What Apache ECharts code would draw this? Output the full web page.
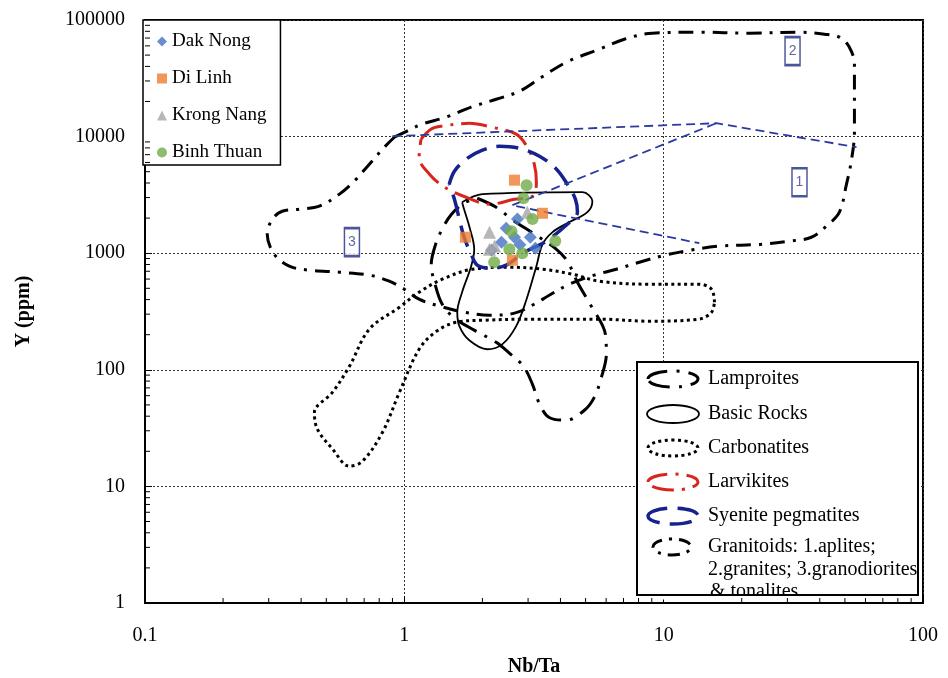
<!DOCTYPE html>
<html>
<head>
<meta charset="utf-8">
<script src="https://cdn.jsdelivr.net/npm/echarts@6/dist/echarts.min.js"></script>
<style>
  html, body { margin: 0; padding: 0; background: #fff; }
  #chart { width: 948px; height: 678px; }
</style>
</head>
<body>
<div id="chart"></div>
<script>
// ---------- samples: [Nb/Ta, Y (ppm)] ----------
const dakNong = [[2.73, 1960], [2.47, 1640], [2.66, 1370], [2.37, 1240], [2.17, 1060], [3.06, 1370], [3.20, 1100], [2.79, 1180]];
const diLinh = [[2.66, 4230], [3.41, 2200], [1.72, 1370], [2.61, 871]];
const krongNang = [[2.98, 2250], [2.13, 1510], [2.23, 1150], [2.13, 1080]];
const binhThuan = [[2.96, 3830], [2.88, 2960], [3.12, 1960], [2.59, 1540], [3.82, 1270], [2.54, 1080], [2.85, 1000], [2.22, 837]];

// ---------- reference fields (closed outlines): [Nb/Ta, Y (ppm)] ----------
const lamproites = [[1.91, 2960], [2.26, 2480], [2.59, 1960], [3.17, 1460], [3.86, 1080], [4.25, 854], [4.65, 564], [5.26, 351], [5.96, 202], [6.01, 136], [5.75, 86], [5.40, 58], [4.95, 45], [4.22, 37], [3.62, 39], [3.32, 51], [3.12, 75], [2.88, 107], [2.54, 139], [2.26, 172], [1.86, 219], [1.56, 277], [1.40, 365], [1.32, 521], [1.27, 805], [1.32, 1190], [1.40, 1610], [1.52, 2160], [1.70, 2690], [1.91, 2960]];
const basicRocks = [[1.67, 2740], [2.0, 3210], [4.86, 3340], [5.31, 2790], [5.08, 2250], [4.33, 1850], [3.72, 1510], [3.41, 1190], [3.23, 774], [2.96, 403], [2.70, 237], [2.39, 166], [2.09, 150], [1.78, 179], [1.63, 237], [1.60, 312], [1.67, 463], [1.81, 774], [1.86, 1080], [1.78, 1700], [1.70, 2380], [1.67, 2740]];
const carbonatites = [[15.7, 380], [15.3, 491], [13.7, 542], [8.8, 542], [5.65, 575], [4.45, 660], [3.41, 729], [2.54, 758], [1.83, 729], [1.40, 598], [1.14, 463], [0.957, 344], [0.733, 223], [0.614, 107], [0.528, 64], [0.450, 43], [0.462, 31], [0.528, 21], [0.614, 14.9], [0.689, 16.4], [0.823, 29], [0.957, 64], [1.14, 150], [1.33, 214], [1.59, 256], [2.0, 266], [3.12, 272], [5.65, 272], [8.8, 261], [13.7, 272], [15.3, 312], [15.7, 380]];
const larvikites = [[1.16, 9500], [1.27, 11600], [1.40, 12300], [1.78, 13000], [2.19, 12000], [2.70, 10500], [2.98, 8110], [3.17, 5800], [3.23, 4060], [3.12, 3080], [2.66, 2900], [2.13, 2630], [1.73, 3020], [1.43, 3680], [1.25, 4760], [1.14, 6660], [1.16, 9500]];
const syenitePegmatites = [[1.49, 3910], [1.56, 5050], [1.73, 6400], [2.0, 7650], [2.33, 8270], [2.78, 7950], [3.32, 6790], [3.86, 5250], [4.25, 3910], [4.57, 2900], [4.65, 2250], [4.25, 1770], [3.47, 1240], [2.90, 1020], [2.47, 789], [2.13, 744], [1.91, 789], [1.81, 980], [1.70, 1370], [1.63, 1960], [1.56, 2900], [1.49, 3910]];
const granitoids = [[0.915, 9880], [1.02, 11100], [1.17, 12800], [1.45, 14700], [1.81, 17900], [2.26, 20900], [2.78, 24500], [3.38, 32300], [4.22, 43500], [5.65, 56200], [7.05, 68400], [9.04, 77100], [13.7, 78600], [21.4, 77100], [33.4, 78600], [41.7, 75600], [47.6, 71200], [52.0, 58500], [54.4, 41800], [54.4, 23100], [54.4, 10900], [52.9, 6150], [50.7, 3910], [47.6, 2250], [42.8, 1740], [37.1, 1370], [30.5, 1270], [23.4, 1190], [16.4, 1150], [12.6, 1060], [10.1, 961], [8.06, 837], [6.57, 729], [5.40, 648], [4.33, 542], [3.62, 436], [3.17, 365], [2.66, 306], [2.13, 294], [1.70, 312], [1.37, 351], [1.14, 403], [1.0, 491], [0.875, 575], [0.733, 648], [0.562, 687], [0.430, 715], [0.360, 774], [0.315, 980], [0.296, 1460], [0.310, 1960], [0.338, 2290], [0.394, 2380], [0.470, 2530], [0.562, 3210], [0.641, 4150], [0.733, 5800], [0.837, 8110], [0.915, 9880]];
// sub-field dividers inside the granitoid envelope
const graniteDivider = [[0.899, 10080], [15.97, 13030], [55.4, 8110]];
const apliteUpper = [[2.61, 2580], [15.97, 13030]];
const apliteLower = [[2.70, 2530], [13.73, 1218]];
// sub-field tags
const regionTags = [
  { tag: '1', value: [33.4, 4060] },
  { tag: '2', value: [31.4, 54000] },
  { tag: '3', value: [0.628, 1243] }
];

// ---------- axes ----------
const xMinorTicks = [0.2, 0.3, 0.4, 0.5, 0.6, 0.7, 0.8, 0.9, 2, 3, 4, 5, 6, 7, 8, 9, 20, 30, 40, 50, 60, 70, 80, 90];
const yMinorTicks = [2, 3, 4, 5, 6, 7, 8, 9, 20, 30, 40, 50, 60, 70, 80, 90, 200, 300, 400, 500, 600, 700, 800, 900,
  2000, 3000, 4000, 5000, 6000, 7000, 8000, 9000, 20000, 30000, 40000, 50000, 60000, 70000, 80000, 90000];
const X_MIN = 0.1, X_MAX = 100, Y_MIN = 1, Y_MAX = 100000;

const SERIF = '"Liberation Serif", "Times New Roman", serif';

function fieldLine(name, data, color, width, dash, z) {
  return {
    type: 'line', name: name, data: data,
    showSymbol: false, symbol: 'none', smooth: 0.35, silent: true,
    lineStyle: { color: color, width: width, type: dash, cap: 'butt', join: 'round' },
    z: z || 3
  };
}

const minorTickData = xMinorTicks.map(v => [v, Y_MIN, 0]).concat(yMinorTicks.map(v => [X_MIN, v, 1]));

const chart = echarts.init(document.getElementById('chart'), null, { renderer: 'canvas' });

const fmt = v => String(+Number(v).toPrecision(6));

const axisCommon = {
  type: 'log', logBase: 10,
  nameLocation: 'middle',
  nameTextStyle: { fontFamily: SERIF, fontWeight: 'bold', fontSize: 20, color: '#000' },
  axisLine: { show: true, onZero: false, lineStyle: { color: '#000', width: 2 } },
  axisTick: { show: true, inside: true, length: 7, lineStyle: { color: '#000', width: 1 } },
  axisLabel: { fontFamily: SERIF, fontSize: 20, color: '#000', formatter: fmt },
  splitLine: { show: true, lineStyle: { color: '#333', width: 1, type: [2, 2] } }
};

const legendIconY = [379, 414, 448, 482, 516, 547];
const legendTexts = ['Lamproites', 'Basic Rocks', 'Carbonatites', 'Larvikites', 'Syenite pegmatites', 'Granitoids: 1.aplites;'];

const option = {
  animation: false,
  backgroundColor: '#fff',
  grid: {
    left: 145, right: 25, top: 20, bottom: 75,
    outerBoundsMode: 'none', containLabel: false,
    show: true, borderColor: '#000', borderWidth: 2, backgroundColor: 'transparent'
  },
  xAxis: Object.assign({}, axisCommon, {
    min: X_MIN, max: X_MAX, name: 'Nb/Ta', nameGap: 54,
    axisLabel: Object.assign({}, axisCommon.axisLabel, { margin: 23 })
  }),
  yAxis: Object.assign({}, axisCommon, {
    min: Y_MIN, max: Y_MAX, name: 'Y (ppm)', nameGap: 111, nameRotate: 90,
    axisLabel: Object.assign({}, axisCommon.axisLabel, { margin: 20 })
  }),
  legend: {
    data: ['Dak Nong', 'Di Linh', 'Krong Nang', 'Binh Thuan'],
    orient: 'vertical', left: 143, top: 20,
    itemWidth: 10, itemHeight: 10, itemGap: 18,
    padding: [12, 14, 3, 14],
    backgroundColor: '#fff', borderColor: '#000', borderWidth: 1.5, borderRadius: 0,
    textStyle: { fontFamily: SERIF, fontSize: 19, color: '#000' },
    selectedMode: false, z: 10
  },
  series: [
    fieldLine('Granitoids', granitoids, '#000', 3, [15, 8, 3, 8]),
    fieldLine('Carbonatites', carbonatites, '#000', 3, [3, 3.5]),
    fieldLine('Lamproites', lamproites, '#000', 3, [22, 9, 3, 9]),
    fieldLine('Basic Rocks', basicRocks, '#000', 1.8, 'solid'),
    fieldLine('Larvikites', larvikites, '#D8261E', 3, [26, 8, 3, 8]),
    fieldLine('Syenite pegmatites', syenitePegmatites, '#16238C', 3.5, [22, 10]),
    Object.assign(fieldLine('g-div', graniteDivider, '#2B3AA0', 1.8, [9, 5]), { smooth: false }),
    Object.assign(fieldLine('a-up', apliteUpper, '#2B3AA0', 1.8, [9, 5]), { smooth: false }),
    Object.assign(fieldLine('a-low', apliteLower, '#2B3AA0', 1.8, [9, 5]), { smooth: false }),
    { type: 'scatter', name: 'Dak Nong', data: dakNong, symbol: 'diamond', symbolSize: 13, itemStyle: { color: '#4472C4' }, z: 5 },
    { type: 'scatter', name: 'Di Linh', data: diLinh, symbol: 'rect', symbolSize: 11, itemStyle: { color: '#ED7D31' }, z: 5 },
    { type: 'scatter', name: 'Krong Nang', data: krongNang, symbol: 'triangle', symbolSize: 13, itemStyle: { color: '#A5A5A5' }, z: 5 },
    { type: 'scatter', name: 'Binh Thuan', data: binhThuan, symbol: 'circle', symbolSize: 12, itemStyle: { color: '#70AD47' }, z: 5 },
    {
      type: 'scatter', name: 'tags', data: regionTags, silent: true,
      symbol: 'rect', symbolSize: [15, 28],
      itemStyle: { color: '#fff', borderColor: '#1E2A80', borderWidth: 2 },
      label: { show: true, position: 'inside', formatter: p => p.data.tag, color: '#3A3F8C', fontSize: 14, fontFamily: 'Liberation Sans, Arial, sans-serif' },
      z: 6
    },
    {
      type: 'custom', name: 'minor-ticks', data: minorTickData, silent: true, clip: false, z: 120,
      encode: { x: 0, y: 1 },
      renderItem: function (params, api) {
        const p = api.coord([api.value(0), api.value(1)]);
        const len = 5;
        const vertical = api.value(2) === 1;
        return {
          type: 'line',
          shape: vertical ? { x1: p[0], y1: p[1], x2: p[0] + len, y2: p[1] } : { x1: p[0], y1: p[1], x2: p[0], y2: p[1] - len },
          style: { stroke: '#000', lineWidth: 1 }
        };
      }
    }
  ],
  graphic: [
    { type: 'rect', z: 100, shape: { x: 637, y: 362, width: 281, height: 233 }, style: { fill: '#fff', stroke: '#000', lineWidth: 2 } },
    { type: 'ellipse', z: 101, shape: { cx: 673, cy: legendIconY[0], rx: 25, ry: 8 }, style: { fill: 'none', stroke: '#000', lineWidth: 3, lineDash: [22, 9, 3, 9] } },
    { type: 'ellipse', z: 101, shape: { cx: 673, cy: legendIconY[1], rx: 26, ry: 9 }, style: { fill: 'none', stroke: '#000', lineWidth: 1.8 } },
    { type: 'ellipse', z: 101, shape: { cx: 673, cy: legendIconY[2], rx: 25, ry: 8 }, style: { fill: 'none', stroke: '#000', lineWidth: 3, lineDash: [3, 3.5] } },
    { type: 'ellipse', z: 101, shape: { cx: 673, cy: legendIconY[3], rx: 25, ry: 8 }, style: { fill: 'none', stroke: '#D8261E', lineWidth: 3, lineDash: [22, 8, 3, 8] } },
    { type: 'ellipse', z: 101, shape: { cx: 673, cy: legendIconY[4], rx: 25, ry: 8 }, style: { fill: 'none', stroke: '#16238C', lineWidth: 3.5, lineDash: [22, 10] } },
    { type: 'ellipse', z: 101, shape: { cx: 672, cy: legendIconY[5], rx: 19, ry: 8 }, style: { fill: 'none', stroke: '#000', lineWidth: 3, lineDash: [12, 7, 3, 7] } }
  ].concat(legendTexts.map((t, i) => ({
    type: 'text', z: 101, x: 708, y: legendIconY[i],
    style: { text: t, fontFamily: SERIF, fontSize: 20, fill: '#000', verticalAlign: 'middle' }
  }))).concat([
    { type: 'text', z: 101, x: 708, y: 570, style: { text: '2.granites; 3.granodiorites', fontFamily: SERIF, fontSize: 20, fill: '#000', verticalAlign: 'middle' } },
    { type: 'text', z: 101, x: 710, y: 592, style: { text: '& tonalites', fontFamily: SERIF, fontSize: 20, fill: '#000', verticalAlign: 'middle' } },
    // lower edge of the box drawn over the last line of text
    { type: 'rect', z: 102, shape: { x: 636, y: 595.5, width: 283, height: 4 }, style: { fill: '#fff' } },
    { type: 'line', z: 103, shape: { x1: 636, y1: 595, x2: 919, y2: 595 }, style: { stroke: '#000', lineWidth: 2 } }
  ])
};

chart.setOption(option);
</script>
</body>
</html>
